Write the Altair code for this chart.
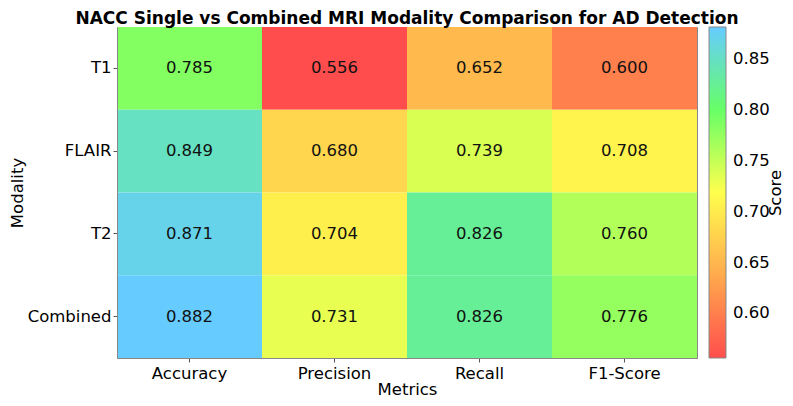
import altair as alt
import pandas as pd

modalities = ["T1", "FLAIR", "T2", "Combined"]
metrics = ["Accuracy", "Precision", "Recall", "F1-Score"]
accuracy = [0.785, 0.849, 0.871, 0.882]
precision = [0.556, 0.680, 0.704, 0.731]
recall = [0.652, 0.739, 0.826, 0.826]
f1_score = [0.600, 0.708, 0.760, 0.776]

cmap_stops = [0.556, 0.6375, 0.719, 0.8005, 0.882]
cmap_colors = ["#ff4d4d", "#ffaa4d", "#ffff4d", "#66ff66", "#66ccff"]
legend_ticks = [0.60, 0.65, 0.70, 0.75, 0.80, 0.85]
title_text = "NACC Single vs Combined MRI Modality Comparison for AD Detection"

rows = []
for i, m in enumerate(modalities):
    for metric, vals in zip(metrics, [accuracy, precision, recall, f1_score]):
        rows.append({"Modality": m, "Metric": metric, "Score": vals[i]})
df = pd.DataFrame(rows)

FONT = "DejaVu Sans"
FS = 16.5
W, H = 580, 331
PAD_L, PAD_T = 109, 19
SVG_W, SVG_H = 777, 390

base = alt.Chart(df).encode(
    x=alt.X("Metric:N", sort=metrics, title="Metrics",
            axis=alt.Axis(labelAngle=0, labelPadding=3, tickSize=4, titlePadding=0)),
    y=alt.Y("Modality:N", sort=modalities, title="Modality",
            axis=alt.Axis(labelPadding=2, tickSize=4, titlePadding=2)),
)

rect = base.mark_rect().encode(
    color=alt.Color(
        "Score:Q",
        scale=alt.Scale(domain=cmap_stops, range=cmap_colors, interpolate="rgb"),
        legend=alt.Legend(
            title=None, orient="right", offset=12, padding=0,
            gradientLength=H, gradientThickness=17,
            gradientStrokeColor="#888", gradientStrokeWidth=1,
            values=legend_ticks, format=".2f",
            labelFontSize=FS, labelFont=FONT, labelColor="#000",
            labelOffset=7,
        ),
    )
)

text = base.mark_text(fontSize=FS, font=FONT, color="#111").encode(
    text=alt.Text("Score:Q", format=".3f")
)

score_lbl = alt.Chart(pd.DataFrame({"t": ["Score"]})).mark_text(
    fontSize=FS, font=FONT, color="#000", angle=270, align="center", baseline="middle"
).encode(text="t:N", x=alt.value(659), y=alt.value(166))

title_lbl = alt.Chart(pd.DataFrame({"t": [title_text]})).mark_text(
    fontSize=17, font=FONT, fontWeight="bold", color="#000",
    align="center", baseline="alphabetic"
).encode(text="t:N", x=alt.value(W / 2), y=alt.value(-3.2))

chart = alt.layer(rect, text, score_lbl, title_lbl).properties(
    width=W, height=H,
    autosize=alt.AutoSizeParams(type="none"),
    padding={"left": PAD_L, "top": PAD_T,
             "right": SVG_W - PAD_L - W, "bottom": SVG_H - PAD_T - H},
).configure_axis(
    labelFont=FONT, titleFont=FONT, labelFontSize=FS, titleFontSize=FS,
    labelColor="#000", titleColor="#000", titleFontWeight="normal",
    domainColor="#888", tickColor="#555",
).configure_view(stroke="#888", strokeWidth=1)

chart.save("out.html", embed_options={"renderer": "svg", "actions": False})
